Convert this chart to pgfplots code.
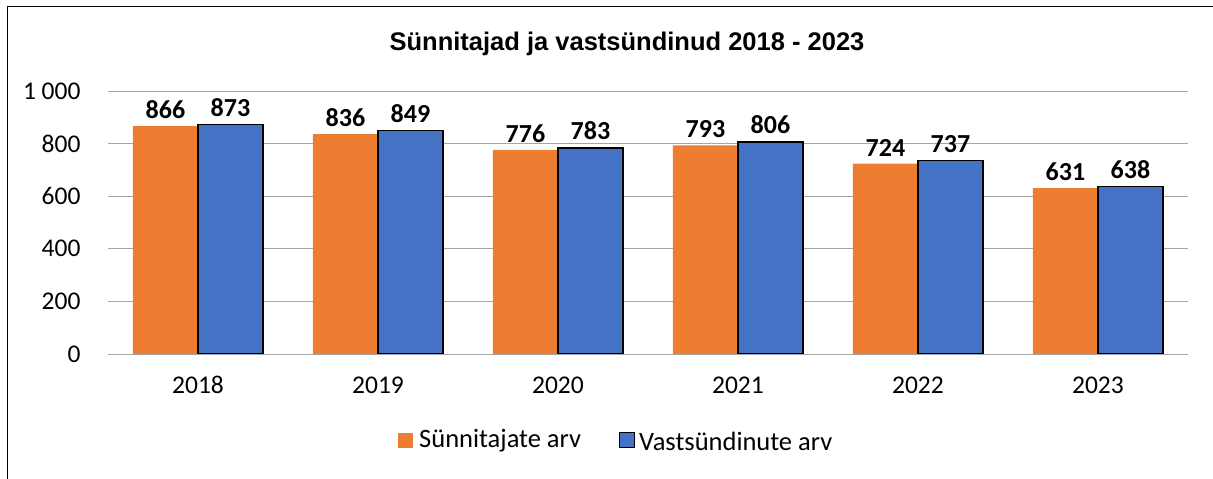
\documentclass[border=0pt]{standalone}
\usepackage{pgfplots}
\pgfplotsset{compat=1.18}
\usepackage{fontspec}
\setmainfont{Carlito}
\newfontfamily\titlefont{Liberation Sans}
\definecolor{corange}{HTML}{ED7D31}
\definecolor{cblue}{HTML}{4472C4}
\definecolor{cgrid}{HTML}{A6A6A6}
\begin{document}
\begin{tikzpicture}
\path[use as bounding box] (0pt,0pt) rectangle (1213pt,479pt);
\draw[line width=1.3pt] (7.5pt,0pt) -- (7.5pt,472.5pt) -- (1213pt,472.5pt);
\node[font=\titlefont\bfseries\fontsize{25.5}{30}\selectfont] at (627pt,435pt) {Sünnitajad ja vastsündinud 2018 - 2023};
\begin{axis}[
  at={(108pt,125pt)}, anchor=south west,
  scale only axis, width=1080pt, height=263pt,
  xmin=-0.5, xmax=5.5, ymin=0, ymax=1000,
  ybar=0pt, bar width=65pt,
  axis line style={draw=none},
  ymajorgrids, grid style={cgrid, line width=0.8pt},
  ytick={0,200,400,600,800,1000},
  yticklabels={0,200,400,600,800,1 000},
  xtick={0,1,2,3,4,5},
  xticklabels={2018,2019,2020,2021,2022,2023},
  major tick length=0pt,
  tick label style={font=\fontsize{25.5}{30}\selectfont},
  yticklabel style={xshift=-24pt},
  xticklabel style={yshift=-19pt},
  nodes near coords,
  every node near coord/.append style={font=\bfseries\fontsize{26}{31}\selectfont, yshift=4pt},
  point meta=explicit symbolic,
  clip=false,
]
\addplot[fill=corange, draw=none] coordinates {(0,866) [866] (1,836) [836] (2,776) [776] (3,793) [793] (4,724) [724] (5,631) [631]};
\addplot[fill=cblue, draw=black, line width=1.2pt] coordinates {(0,873) [873] (1,849) [849] (2,783) [783] (3,806) [806] (4,737) [737] (5,638) [638]};
\draw[cgrid, line width=0.8pt] (axis cs:-0.5,0) -- (axis cs:5.5,0);
\end{axis}
\fill[corange] (398pt,31pt) rectangle (413pt,46pt);
\node[anchor=west, font=\fontsize{26.5}{31}\selectfont, inner sep=0pt] at (419pt,38pt) {Sünnitajate arv};
\filldraw[fill=cblue, draw=black, line width=1pt] (619pt,31pt) rectangle (634pt,46pt);
\node[anchor=west, font=\fontsize{26.5}{31}\selectfont, inner sep=0pt] at (639pt,38pt) {Vastsündinute arv};
\end{tikzpicture}
\end{document}
